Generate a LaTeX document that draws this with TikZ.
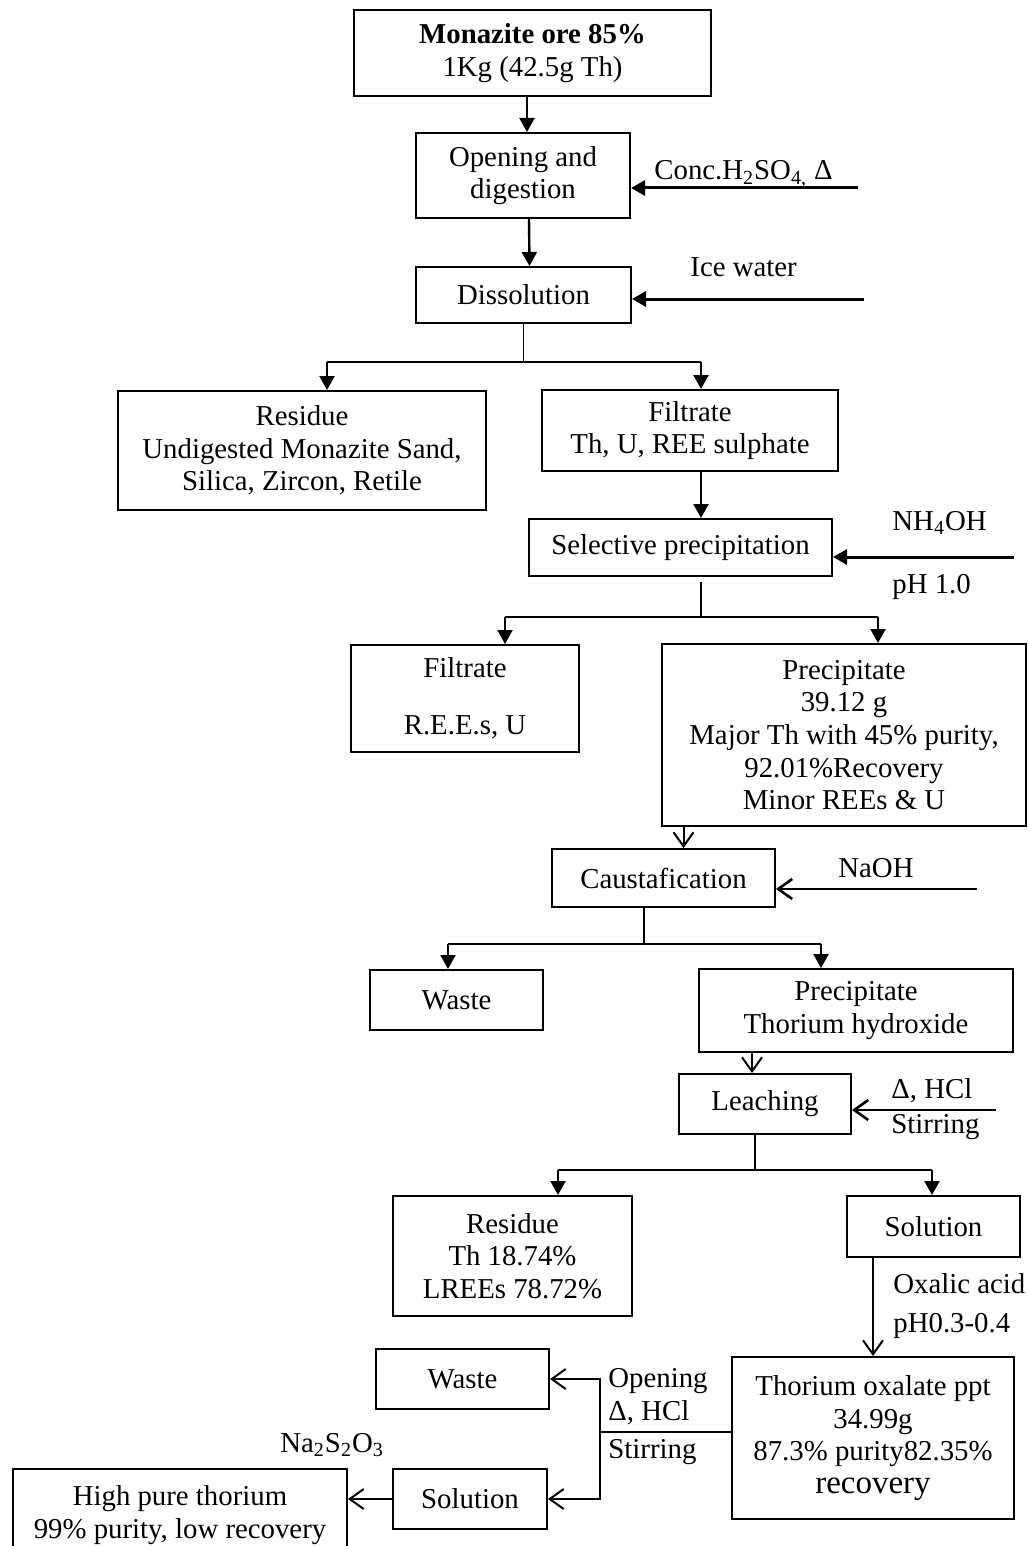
\documentclass[tikz,border=0pt]{standalone}
\usepackage{fontspec}
\setmainfont{Liberation Serif}
\usetikzlibrary{arrows.meta}
\tikzset{
 txt/.style={font=\fontsize{14.4pt}{16.3pt}\selectfont, align=center},
 box/.style={txt, draw, line width=1pt, inner sep=0pt},
 lbl/.style={font=\fontsize{14.4pt}{16.3pt}\selectfont, inner sep=0pt},
 fa/.style={line width=1.2pt, -{Triangle[length=7pt,width=7.5pt]}},
 oa/.style={line width=1pt, -{Straight Barb[length=7pt,width=10pt]}},
 stem/.style={line width=0.7pt},
 bar/.style={line width=1.2pt},
}
\begin{document}
\begin{tikzpicture}[x=0.5pt,y=-0.5pt]
\useasboundingbox (0,0) rectangle (1028,1546);
\clip (0,0) rectangle (1028,1546);
\fill[white] (0,0) rectangle (1028,1546);

% boxes
\node[box, minimum width=178.5pt, minimum height=43pt] (ore) at (532.5,53) {\textbf{Monazite ore 85\%}\\1Kg (42.5g Th)};
\node[box, minimum width=107pt, minimum height=42.5pt] (open) at (523,175.5) {Opening and\\digestion};
\node[box, minimum width=107.5pt, minimum height=28pt] (diss) at (523.5,295) {Dissolution};
\node[box, minimum width=184pt, minimum height=59.5pt] (res1) at (302,450.5) {Residue\\Undigested Monazite Sand,\\Silica, Zircon, Retile};
\node[box, minimum width=148pt, minimum height=40.5pt] (filt1) at (690,430.5) {Filtrate\\Th, U, REE sulphate};
\node[box, minimum width=151.5pt, minimum height=28.5pt] (sel) at (680.5,547.5) {Selective precipitation};
\node[box, minimum width=114pt, minimum height=53.5pt] (filt2) at (465,698.5) {Filtrate\\[12pt]R.E.E.s, U};
\node[box, minimum width=182pt, minimum height=91pt] (prec1) at (844,735) {Precipitate\\39.12 g\\Major Th with 45\% purity,\\92.01\%Recovery\\Minor REEs \& U};
\node[box, minimum width=111.5pt, minimum height=29pt] (caust) at (663.5,878) {Caustafication};
\node[box, minimum width=86.5pt, minimum height=30pt] (waste1) at (456.5,1000) {Waste};
\node[box, minimum width=157pt, minimum height=41.5pt] (prec2) at (856,1010.5) {Precipitate\\Thorium hydroxide};
\node[box, minimum width=86pt, minimum height=30pt] (leach) at (765,1104) {Leaching};
\node[box, minimum width=119.5pt, minimum height=60pt] (res2) at (512.5,1256) {Residue\\Th 18.74\%\\LREEs 78.72\%};
\node[box, minimum width=86.5pt, minimum height=30.5pt] (sol1) at (933.5,1226.5) {Solution};
\node[box, minimum width=141pt, minimum height=81pt] (thox) at (873,1438) {Thorium oxalate ppt\\34.99g\\87.3\% purity82.35\%\\{\fontsize{16.5pt}{19pt}\selectfont recovery}};
\node[box, minimum width=86.5pt, minimum height=30pt] (waste2) at (462.5,1379) {Waste};
\node[box, minimum width=77pt, minimum height=30pt] (sol2) at (470,1499) {Solution};
\node[box, minimum width=167pt, minimum height=46pt] (high) at (180,1515) {High pure thorium\\99\% purity, low recovery};

% labels
\node[lbl, anchor=base west] (lconc) at (654,180) {Conc.H\textsubscript{2}SO\textsubscript{4,} Δ};
\node[lbl, anchor=base west] (lice) at (690,277) {Ice water};
\node[lbl, anchor=base west] (lnh) at (892,530) {NH\textsubscript{4}OH};
\node[lbl, anchor=base west] (lph) at (892,593) {pH 1.0};
\node[lbl, anchor=base west] (lnaoh) at (838,877) {NaOH};
\node[lbl, anchor=base west] (lhcl) at (891,1098) {Δ, HCl};
\node[lbl, anchor=base west] (lstir) at (891,1133) {Stirring};
\node[lbl, anchor=base west] (lox) at (893,1293) {Oxalic acid};
\node[lbl, anchor=base west] (lph2) at (893,1332) {pH0.3-0.4};
\node[lbl, anchor=base west] (lop) at (608,1387) {Opening};
\node[lbl, anchor=base west] (lhcl2) at (608,1420) {Δ, HCl};
\node[lbl, anchor=base west] (lstir2) at (608,1458) {Stirring};
\node[lbl, anchor=base west] (lna) at (280,1452) {Na\textsubscript{2}S\textsubscript{2}O\textsubscript{3}};

% coordinates
\coordinate (concS) at (858,188);
\coordinate (iceS) at (864,299);
\coordinate (ja) at (327,362);
\coordinate (jb) at (701,362);
\coordinate (nhS) at (1014,557);
\coordinate (jc) at (505,617);
\coordinate (jd) at (878,617);
\coordinate (je) at (701,617);
\coordinate (naS) at (977,889);
\coordinate (jf) at (448,944);
\coordinate (jg) at (821,944);
\coordinate (jh) at (644,944);
\coordinate (hclS) at (996,1110);
\coordinate (ji) at (558,1170);
\coordinate (jj) at (932,1170);
\coordinate (jk) at (755,1170);
\coordinate (jl) at (600,1432);

% connectors
\draw[fa] ([xshift=2pt]open.north |- ore.south) -- ([xshift=2pt]open.north);
\draw[fa] ([xshift=3pt]open.south) -- ([xshift=3pt]diss.north);
\draw[fa, line width=1.5pt] (concS) -- (concS -| open.east);
\draw[fa, line width=1.5pt] (iceS) -- (iceS -| diss.east);

\draw[stem] (diss.south) -- (diss.south |- ja);
\draw[bar] (ja) -- (jb);
\draw[fa] (ja) -- (ja |- res1.north);
\draw[fa] (jb) -- (jb |- filt1.north);
\draw[fa] (filt1.south -| jb) -- (sel.north -| jb);
\draw[fa, line width=1.5pt] (nhS) -- (nhS -| sel.east);

\draw[stem] ([yshift=-2.5pt]sel.south -| je) -- (je);
\draw[bar] (jc) -- (jd);
\draw[fa] (jc) -- (jc |- filt2.north);
\draw[fa] (jd) -- (jd |- prec1.north);
\draw[oa] ([xshift=10pt]caust.north |- prec1.south) -- ([xshift=10pt]caust.north);
\draw[oa, line width=1.3pt] (naS) -- (naS -| caust.east);

\draw[stem] (caust.south -| jh) -- (jh);
\draw[bar] (jf) -- (jg);
\draw[fa] (jf) -- (jf |- waste1.north);
\draw[fa] (jg) -- (jg |- prec2.north);
\draw[oa] ([xshift=-6.5pt]leach.north |- prec2.south) -- ([xshift=-6.5pt]leach.north);
\draw[oa, line width=1.3pt] (hclS) -- (hclS -| leach.east);

\draw[stem] (leach.south -| jk) -- (jk);
\draw[bar] (ji) -- (jj);
\draw[fa] (ji) -- (ji |- res2.north);
\draw[fa] (jj) -- (jj |- sol1.north);
\draw[oa] (thox.north |- sol1.south) -- (thox.north);

\draw[stem] (thox.west |- jl) -- (jl);
\draw[oa] (jl) |- (waste2.east);
\draw[oa] (jl) |- (sol2.east);
\draw[oa] (sol2.west) -- (sol2.west -| high.east);
\end{tikzpicture}
\end{document}
